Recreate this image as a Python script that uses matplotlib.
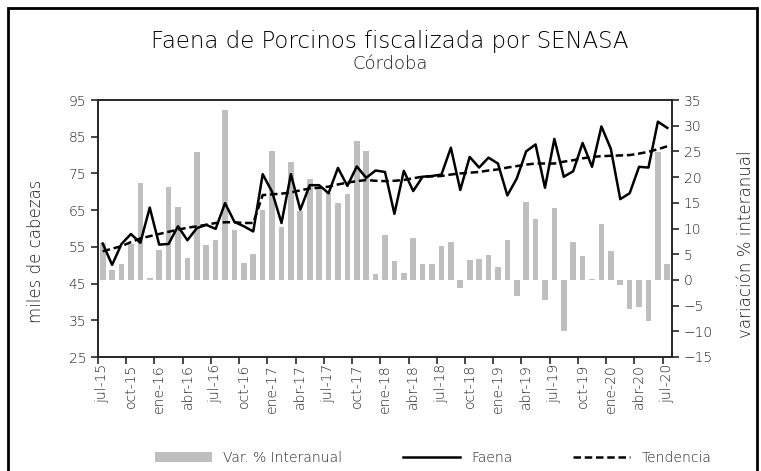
import matplotlib.pyplot as plt
from matplotlib.patches import Rectangle
import numpy as np

plt.rcParams["font.family"] = ["DejaVu Sans"]

# monthly series jul-15 .. jul-20
var_interanual = [7.2, 2.0, 3.1, 7.0, 18.8, 0.4, 5.8, 18.0, 14.1, 4.2,
                  24.9, 6.8, 7.7, 33.1, 9.8, 3.2, 5.0, 13.6, 25.0, 10.2,
                  23.0, 13.5, 19.6, 17.8, 17.0, 15.0, 16.8, 27.1, 25.0, 1.1,
                  8.7, 3.6, 1.3, 8.1, 3.1, 3.1, 6.6, 7.4, -1.6, 3.9,
                  4.1, 4.9, 2.6, 7.7, -3.1, 15.2, 11.9, -3.9, 13.9, -10.0,
                  7.4, 4.6, 0.15, 10.9, 5.7, -1.0, -5.7, -5.2, -7.9, 24.9,
                  3.1]

faena = [55.9, 50.1, 55.8, 58.5, 56.1, 65.7, 55.6, 55.8, 60.6, 56.8,
         60.1, 61.0, 59.9, 66.9, 61.8, 60.6, 59.2, 74.8, 70.0, 61.5,
         74.8, 65.1, 71.8, 71.8, 69.6, 76.5, 71.6, 76.9, 73.8, 75.8,
         75.4, 64.0, 75.7, 70.2, 74.1, 74.3, 74.7, 82.0, 70.5, 79.5,
         76.6, 79.3, 77.7, 69.0, 73.6, 81.0, 82.9, 71.1, 84.4, 74.1,
         75.6, 83.3, 76.8, 87.8, 81.7, 68.0, 69.6, 76.8, 76.6, 89.1,
         87.4]

tendencia = [53.8, 54.5, 55.2, 56.3, 57.3, 57.9, 58.5, 59.1, 59.7, 60.2,
             60.6, 61.0, 61.5, 61.7, 61.7, 61.5, 61.5, 69.1, 69.3, 69.5,
             69.8, 70.4, 70.9, 71.1, 71.4, 72.0, 72.5, 72.9, 73.2, 73.0,
             72.9, 73.0, 73.2, 73.7, 74.1, 74.2, 74.3, 74.7, 75.0, 75.2,
             75.4, 75.8, 76.1, 76.6, 77.0, 77.4, 77.7, 77.7, 77.7, 78.2,
             78.6, 79.1, 79.5, 79.7, 79.8, 79.9, 80.0, 80.4, 80.9, 81.6,
             82.4]

tick_labels = ["jul-15", "oct-15", "ene-16", "abr-16", "jul-16", "oct-16",
               "ene-17", "abr-17", "jul-17", "oct-17", "ene-18", "abr-18",
               "jul-18", "oct-18", "ene-19", "abr-19", "jul-19", "oct-19",
               "ene-20", "abr-20", "jul-20"]

x = np.arange(len(faena))
txt = "#1f1f1f"
fw = "light"

fig = plt.figure(figsize=(7.61, 4.71), dpi=100)
fig.patches.append(Rectangle((8 / 761, -0.1), 749 / 761, 1.1 - 8 / 471,
                             transform=fig.transFigure, fill=False,
                             edgecolor="black", linewidth=2))

ax = fig.add_axes([98 / 761, 1 - 357 / 471, 574 / 761, 257 / 471])
ax.bar(x, var_interanual, width=0.6, color="#bfbfbf", label="Var. % Interanual")

ax2 = ax.twinx()
ax2.plot(x, faena, color="black", linewidth=1.8, label="Faena")
ax2.plot(x, tendencia, color="black", linewidth=1.8, linestyle=(0, (3, 1.5)),
         label="Tendencia")

# bars use the right scale, lines the left one
ax.set_ylim(-15, 35)
ax.set_yticks(np.arange(-15, 36, 5))
ax.yaxis.tick_right()
ax.yaxis.set_label_position("right")
ax.set_ylabel("variación % interanual", fontsize=12, color=txt, fontweight=fw)
ax.yaxis.set_label_coords(1.113, 0.44)

ax2.set_ylim(25, 95)
ax2.set_yticks(np.arange(25, 96, 10))
ax2.yaxis.tick_left()
ax2.yaxis.set_label_position("left")
ax2.set_ylabel("miles de cabezas", fontsize=12, color=txt, fontweight=fw)
ax2.yaxis.set_label_coords(-0.092, 0.41)

ax.set_xlim(-0.5, len(x) - 0.5)
ax.set_xticks(x[::3])
ax.set_xticklabels(tick_labels, rotation=90, fontsize=10, color=txt,
                   fontweight=fw)
ax.tick_params(axis="x", length=0, pad=5)
ax.set_xticks(x[::3] - 0.5, minor=True)
ax.tick_params(axis="x", which="minor", length=5, color="#262626", width=1.2)

for a in (ax, ax2):
    a.tick_params(axis="y", labelsize=10, labelcolor=txt, length=5,
                  color="#262626", width=1.2)
    for lab in a.get_yticklabels():
        lab.set_fontweight(fw)
    for s in a.spines.values():
        s.set_color("#262626")
        s.set_linewidth(1.2)

fig.text(0.5125, 0.911, "Faena de Porcinos fiscalizada por SENASA",
         ha="center", va="center", fontsize=16.5, color="#000000",
         fontweight=fw)
fig.text(0.5125, 0.864, "Córdoba", ha="center", va="center", fontsize=13,
         color=txt, fontweight=fw)

h1, l1 = ax.get_legend_handles_labels()
h2, l2 = ax2.get_legend_handles_labels()
leg = fig.legend(h1 + h2, l1 + l2, loc="center", bbox_to_anchor=(0.569, 0.028),
                 ncol=3, frameon=False, fontsize=10, handlelength=4.1,
                 handletextpad=0.8, columnspacing=4.4, labelcolor=txt)
for t in leg.get_texts():
    t.set_fontweight(fw)

fig.savefig("out.png", dpi=100)
